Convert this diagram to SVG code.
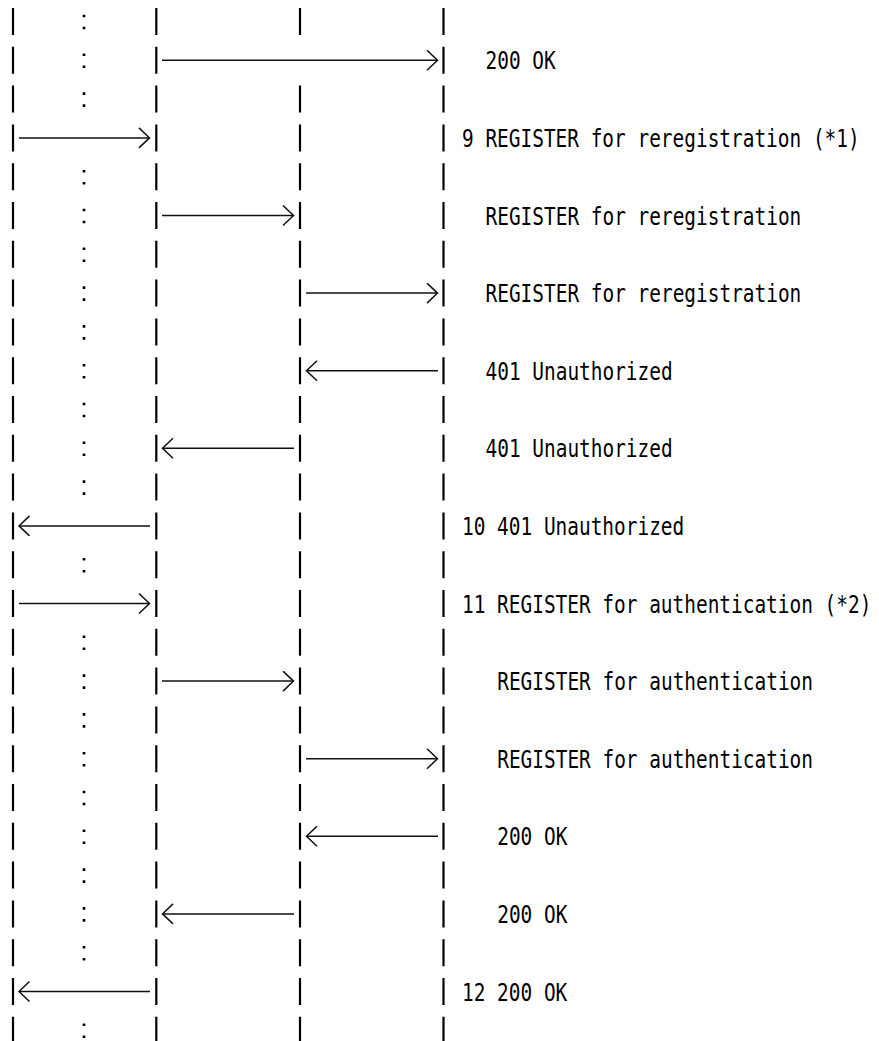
<svg xmlns="http://www.w3.org/2000/svg" width="879" height="1041" viewBox="0 0 879 1041">
<style>
.life{stroke:#000;stroke-width:2.2;stroke-dasharray:27 11.8;fill:none}
.dots{fill:#000}
.msg{stroke:#111;stroke-width:1.5;fill:none;marker-end:url(#arr)}
.lbl{font-family:"DejaVu Sans Mono","Liberation Mono",monospace;font-size:24.5px;fill:#000}
</style>
<defs>
<marker id="arr" markerUnits="userSpaceOnUse" viewBox="0 0 14 24" markerWidth="14" markerHeight="24" refX="11.5" refY="10.5" orient="auto">
<path d="M1 0.5 L11.5 10.5 L1 20.5" fill="none" stroke="#111" stroke-width="1.5"/>
</marker>
</defs>
<rect width="879" height="1041" fill="#fff"/>
<g id="lifeline-1"><line class="life" x1="13" y1="8" x2="13" y2="1041"/>
<path class="dots" d="M82.7 14.7h2.6v2.6h-2.6zM82.7 26.7h2.6v2.6h-2.6zM82.7 53.5h2.6v2.6h-2.6zM82.7 65.5h2.6v2.6h-2.6zM82.7 92.3h2.6v2.6h-2.6zM82.7 104.3h2.6v2.6h-2.6zM82.7 169.9h2.6v2.6h-2.6zM82.7 181.9h2.6v2.6h-2.6zM82.7 208.7h2.6v2.6h-2.6zM82.7 220.7h2.6v2.6h-2.6zM82.7 247.5h2.6v2.6h-2.6zM82.7 259.5h2.6v2.6h-2.6zM82.7 286.3h2.6v2.6h-2.6zM82.7 298.3h2.6v2.6h-2.6zM82.7 325.1h2.6v2.6h-2.6zM82.7 337.1h2.6v2.6h-2.6zM82.7 363.9h2.6v2.6h-2.6zM82.7 375.9h2.6v2.6h-2.6zM82.7 402.7h2.6v2.6h-2.6zM82.7 414.7h2.6v2.6h-2.6zM82.7 441.5h2.6v2.6h-2.6zM82.7 453.5h2.6v2.6h-2.6zM82.7 480.3h2.6v2.6h-2.6zM82.7 492.3h2.6v2.6h-2.6zM82.7 557.9h2.6v2.6h-2.6zM82.7 569.9h2.6v2.6h-2.6zM82.7 635.5h2.6v2.6h-2.6zM82.7 647.5h2.6v2.6h-2.6zM82.7 674.3h2.6v2.6h-2.6zM82.7 686.3h2.6v2.6h-2.6zM82.7 713.1h2.6v2.6h-2.6zM82.7 725.1h2.6v2.6h-2.6zM82.7 751.9h2.6v2.6h-2.6zM82.7 763.9h2.6v2.6h-2.6zM82.7 790.7h2.6v2.6h-2.6zM82.7 802.7h2.6v2.6h-2.6zM82.7 829.5h2.6v2.6h-2.6zM82.7 841.5h2.6v2.6h-2.6zM82.7 868.3h2.6v2.6h-2.6zM82.7 880.3h2.6v2.6h-2.6zM82.7 907.1h2.6v2.6h-2.6zM82.7 919.1h2.6v2.6h-2.6zM82.7 945.9h2.6v2.6h-2.6zM82.7 957.9h2.6v2.6h-2.6zM82.7 1023.5h2.6v2.6h-2.6zM82.7 1035.5h2.6v2.6h-2.6z"/>
</g>
<g id="lifeline-2"><line class="life" x1="156.3" y1="8" x2="156.3" y2="1041"/></g>
<g id="lifeline-3"><line class="life" x1="300" y1="8" x2="300" y2="35"/><line class="life" x1="300" y1="85.6" x2="300" y2="1041"/></g>
<g id="lifeline-4"><line class="life" x1="443.5" y1="8" x2="443.5" y2="1041"/></g>
<g id="connectors">
<path class="msg" d="M162 60.3H437.5"/>
<path class="msg" d="M19 137.9H149.5"/>
<path class="msg" d="M162 215.5H293.5"/>
<path class="msg" d="M306 293.1H437.5"/>
<path class="msg" d="M438 370.7H306.5"/>
<path class="msg" d="M294 448.3H162.5"/>
<path class="msg" d="M150 525.9H19"/>
<path class="msg" d="M19 603.5H149.5"/>
<path class="msg" d="M162 681.1H293.5"/>
<path class="msg" d="M306 758.7H437.5"/>
<path class="msg" d="M438 836.3H306.5"/>
<path class="msg" d="M294 913.9H162.5"/>
<path class="msg" d="M150 991.5H19"/>
</g>
<g id="labels">
<text class="lbl" transform="translate(485.5 69.3) scale(0.793 1)">200 OK</text>
<text class="lbl" transform="translate(462 146.9) scale(0.793 1)">9 REGISTER for reregistration (*1)</text>
<text class="lbl" transform="translate(485.5 224.5) scale(0.793 1)">REGISTER for reregistration</text>
<text class="lbl" transform="translate(485.5 302.1) scale(0.793 1)">REGISTER for reregistration</text>
<text class="lbl" transform="translate(485.5 379.7) scale(0.793 1)">401 Unauthorized</text>
<text class="lbl" transform="translate(485.5 457.3) scale(0.793 1)">401 Unauthorized</text>
<text class="lbl" transform="translate(462 534.9) scale(0.793 1)">10 401 Unauthorized</text>
<text class="lbl" transform="translate(462 612.5) scale(0.793 1)">11 REGISTER for authentication (*2)</text>
<text class="lbl" transform="translate(497.2 690.1) scale(0.793 1)">REGISTER for authentication</text>
<text class="lbl" transform="translate(497.2 767.7) scale(0.793 1)">REGISTER for authentication</text>
<text class="lbl" transform="translate(497.2 845.3) scale(0.793 1)">200 OK</text>
<text class="lbl" transform="translate(497.2 922.9) scale(0.793 1)">200 OK</text>
<text class="lbl" transform="translate(462 1000.5) scale(0.793 1)">12 200 OK</text>
</g>
</svg>
